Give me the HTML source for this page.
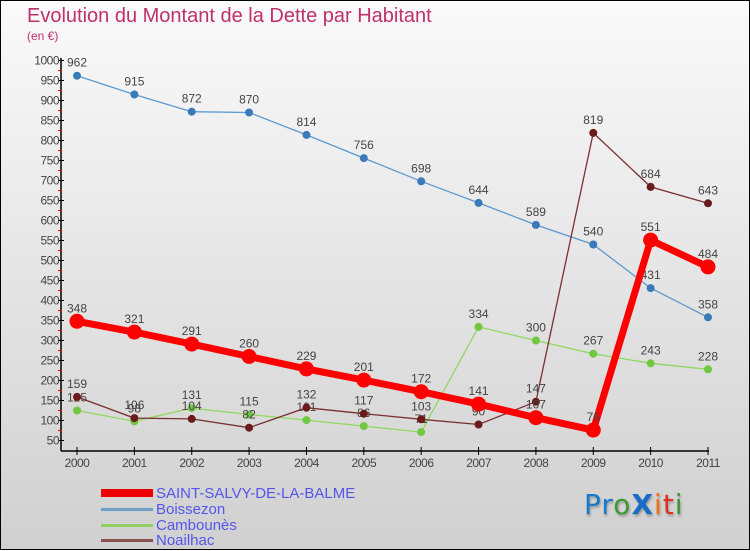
<!DOCTYPE html>
<html><head><meta charset="utf-8"><style>
html,body{margin:0;padding:0}
body{width:750px;height:550px;overflow:hidden;font-family:"Liberation Sans",sans-serif}
#wrap{position:relative;width:748px;height:548px;border:1px solid #000;background:linear-gradient(#fafafa,#d0d0d0)}
.t{position:absolute;color:#c0306a}
.lg{position:absolute;left:155px;color:#5555ee;font-size:15px;line-height:15px}
.sw{position:absolute;left:100px;width:52px}
</style></head><body>
<div id="wrap">
<div class="t" style="left:26px;top:4px;font-size:20px">Evolution du Montant de la Dette par Habitant</div>
<div class="t" style="left:26px;top:28px;font-size:12px">(en €)</div>
<svg id="chart" width="750" height="550" style="position:absolute;left:0;top:0"></svg>
<div class="sw" style="top:488px;height:8px;background:#e00"></div>
<div class="lg" style="top:485px">SAINT-SALVY-DE-LA-BALME</div>
<div class="sw" style="top:507px;height:3px;background:#6fa0c8"></div>
<div class="lg" style="top:501px">Boissezon</div>
<div class="sw" style="top:523px;height:3px;background:#8fd060"></div>
<div class="lg" style="top:517px">Cambounès</div>
<div class="sw" style="top:538px;height:3px;background:#8a5050"></div>
<div class="lg" style="top:532px">Noailhac</div>
<div style="position:absolute;left:583px;top:487px;font-size:28px;font-family:'DejaVu Sans',sans-serif;letter-spacing:1px;text-shadow:1px 2px 2px #999"><span style="color:#1a7ac8">Pr</span><span style="color:#3a9a30">o</span><span style="color:#1a6ac8;font-weight:bold">X</span><span style="color:#f07010">i</span><span style="color:#e03020">t</span><span style="color:#3a9a30">i</span></div>
</div>
<script>
const years=[2000,2001,2002,2003,2004,2005,2006,2007,2008,2009,2010,2011];
const saint=[348,321,291,260,229,201,172,141,107,76,551,484];
const boissezon=[962,915,872,870,814,756,698,644,589,540,431,358];
const cambounes=[125,98,131,115,101,86,71,334,300,267,243,228];
const noailhac=[159,106,104,82,132,117,103,90,147,819,684,643];
const yTicks=[50,100,150,200,250,300,350,400,450,500,550,600,650,700,750,800,850,900,950,1000];
const NS="http://www.w3.org/2000/svg";
const svg=document.getElementById('chart');
function x(i){return 76+i*(707-76)/(years.length-1);}
function y(v){return 439.5-(v-50)*0.4;}
function mk(t,a){const e=document.createElementNS(NS,t);for(const k in a)e.setAttribute(k,a[k]);svg.appendChild(e);return e;}
let e;
e=mk('line',{x1:60,y1:57,x2:60,y2:450,stroke:'#000','stroke-width':1.5});


e=mk('line',{x1:60,y1:450,x2:708,y2:450,stroke:'#000','stroke-width':1.5});


yTicks.forEach(v=>{
  const yy=y(v);
  mk('line',{x1:57,y1:yy,x2:63,y2:yy,stroke:'#000'});
  if(v<1000)mk('line',{x1:57,y1:yy-10,x2:61,y2:yy-10,stroke:'#e00'});
  e=mk('text',{x:58,y:yy+4,'text-anchor':'end','font-size':12,fill:'#444','letter-spacing':'-0.5'});
  e.textContent=v;
  
  
});
years.forEach((yr,i)=>{
  mk('line',{x1:x(i),y1:446,x2:x(i),y2:454,stroke:'#000'});
  e=mk('text',{x:x(i),y:466,'text-anchor':'middle','font-size':12,fill:'#444','letter-spacing':'-0.5'});
  e.textContent=yr;
  
  
});
function series(data,color,dot,w,r,name){
  const p=mk('polyline',{points:data.map((v,i)=>x(i)+','+y(v)).join(' '),fill:'none',stroke:color,'stroke-width':w});
  
  
  data.forEach((v,i)=>{
    const c=mk('circle',{cx:x(i),cy:y(v),r:r,fill:dot});
    
    
    const t=mk('text',{x:x(i),y:y(v)-9,'text-anchor':'middle','font-size':12,fill:'#444'});
    t.textContent=v;
    
    
  });
}
series(boissezon,'#5a9ad0','#3a7ab8',1.3,4,'boissezon');
series(cambounes,'#8fd860','#70c840',1.3,4,'cambounes');
series(noailhac,'#7a3030','#6a1a1a',1.3,4,'noailhac');
series(saint,'#f00','#f00',7,7.5,'saint-salvy');
</script>
</body></html>
